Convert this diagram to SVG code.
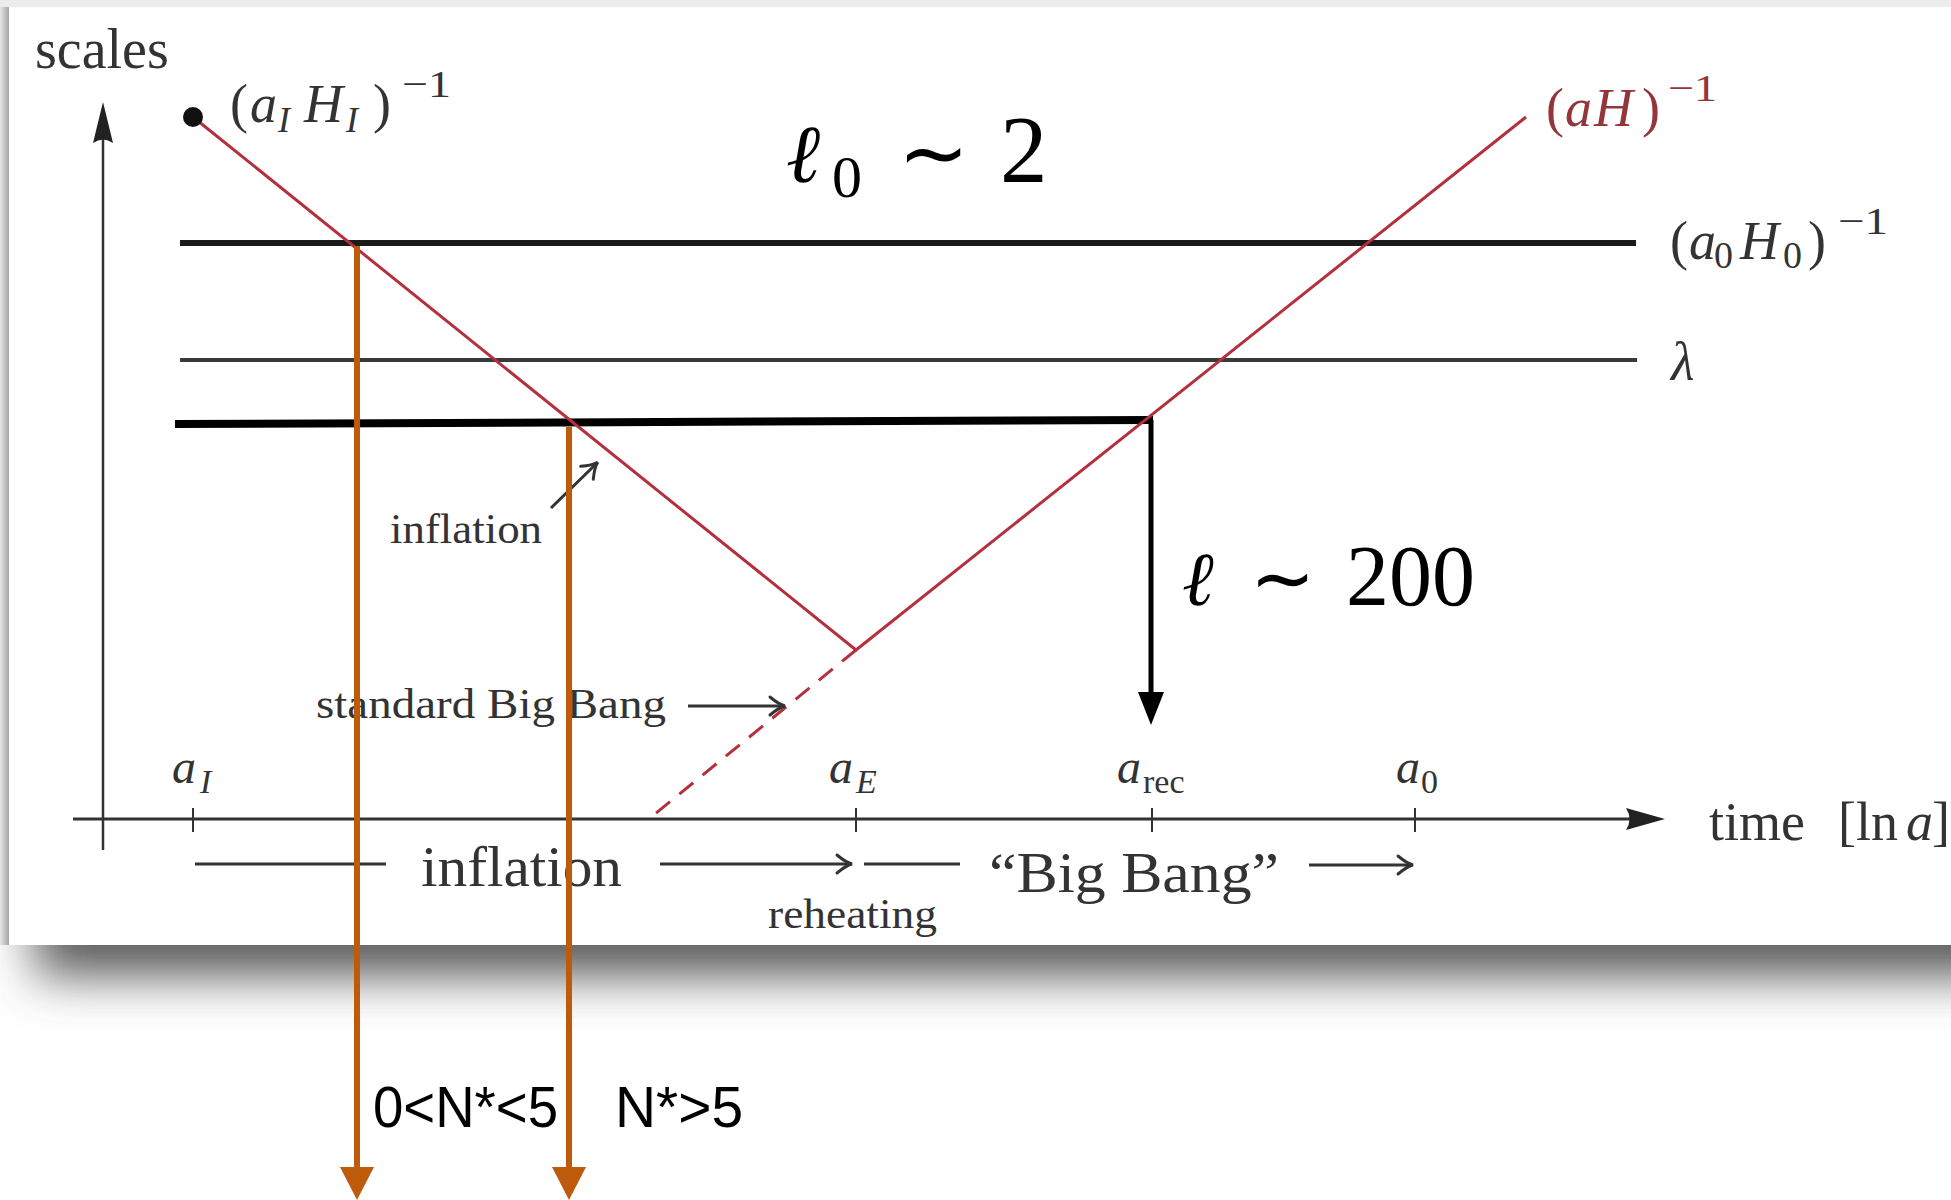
<svg xmlns="http://www.w3.org/2000/svg" width="1951" height="1200" viewBox="0 0 1951 1200">
<defs>
<style>
.tx{font-family:"Liberation Serif","DejaVu Serif",serif;fill:#333}
.rt{font-family:"Liberation Serif","DejaVu Serif",serif;fill:#93353B}
.it{font-style:italic}
.big{font-family:"Liberation Serif","Times New Roman",serif;fill:#000}
.ell{font-family:"DejaVu Serif",serif;font-style:italic;fill:#000}
.n{font-family:"Liberation Sans",Arial,sans-serif;fill:#000}
.red{stroke:#B4303C;stroke-width:3;fill:none}
.ax{stroke:#333;fill:none}
.arr{stroke:#333;stroke-width:3;fill:none;marker-end:url(#tex)}
.pl{stroke:#333;stroke-width:3;fill:none}
.or{stroke:#BE5B0B;stroke-width:6;fill:none}
</style>
<linearGradient id="lg" x1="0" x2="1" y1="0" y2="0"><stop offset="0" stop-color="#e6e6e6"/><stop offset="1" stop-color="#a5a5a5"/></linearGradient>
<filter id="blur" x="-10%" y="-100%" width="120%" height="300%"><feGaussianBlur stdDeviation="25"/></filter>
<marker id="tex" markerUnits="userSpaceOnUse" markerWidth="24" markerHeight="24" viewBox="-18 -12 24 24" refX="0" refY="0" orient="auto"><path d="M-14,-9 Q-5,-1.5 1,0 Q-5,1.5 -14,9" fill="none" stroke="#333" stroke-width="3" stroke-linecap="round"/></marker>
</defs>
<g id="background">
<rect width="1951" height="1200" fill="#fff"/>
<rect width="1951" height="7" fill="#ececec"/>
<rect x="35" y="900" width="1990" height="75" fill="#555" filter="url(#blur)"/>
<rect x="0" y="7" width="9" height="938" fill="url(#lg)"/>
<rect x="9" y="7" width="1942" height="938" fill="#fff"/>
</g>
<g id="axes">
<line class="ax" x1="103" y1="138" x2="103" y2="850" stroke-width="2.5"/>
<path d="M103,102 L113,143 Q103,136 93,143 Z" fill="#222"/>
<line class="ax" x1="73" y1="819" x2="1630" y2="819" stroke-width="3"/>
<path d="M1665,819 L1626,808 Q1633,819 1626,830 Z" fill="#222"/>
<g class="ax" stroke-width="2">
<line x1="193" y1="808" x2="193" y2="832"/>
<line x1="856" y1="808" x2="856" y2="832"/>
<line x1="1152" y1="808" x2="1152" y2="832"/>
<line x1="1415" y1="808" x2="1415" y2="832"/>
</g>
</g>
<g id="scale-lines">
<line x1="180" y1="243" x2="1636" y2="243" stroke="#1a1a1a" stroke-width="6"/>
<line x1="180" y1="360" x2="1637" y2="360" stroke="#3a3a3a" stroke-width="4"/>
<line x1="175" y1="424" x2="1153" y2="420" stroke="#000" stroke-width="8"/>
</g>
<g id="hubble-radius">
<polyline class="red" points="193,117 856,650 1526,117"/>
<line class="red" x1="856" y1="650" x2="650" y2="818" stroke-width="3.5" stroke-dasharray="18 12"/>
<circle cx="193" cy="117" r="10" fill="#111"/>
</g>
<g id="labels">
<text class="tx" x="35" y="68" font-size="56">scales</text>
<text class="tx" font-size="54" y="122"><tspan x="230">(</tspan><tspan x="250" class="it">a</tspan><tspan x="278" y="132" font-size="36" class="it">I</tspan><tspan x="304" y="122" class="it">H</tspan><tspan x="346" y="132" font-size="36" class="it">I</tspan><tspan x="373" y="122">)</tspan><tspan x="402" y="97" font-size="38" textLength="49" lengthAdjust="spacingAndGlyphs">−1</tspan></text>
<text class="rt" font-size="54" y="126"><tspan x="1546">(</tspan><tspan x="1565" class="it">a</tspan><tspan x="1594" class="it">H</tspan><tspan x="1642">)</tspan><tspan x="1668" y="101" font-size="38" textLength="49" lengthAdjust="spacingAndGlyphs">−1</tspan></text>
<text class="tx" font-size="54" y="259"><tspan x="1670">(</tspan><tspan x="1689" class="it">a</tspan><tspan x="1714" y="268" font-size="38">0</tspan><tspan x="1740" y="259" class="it">H</tspan><tspan x="1783" y="268" font-size="38">0</tspan><tspan x="1808" y="259">)</tspan><tspan x="1838" y="234" font-size="38" textLength="50" lengthAdjust="spacingAndGlyphs">−1</tspan></text>
<text class="tx it" x="1671" y="380" font-size="54">λ</text>
<g id="ell0">
<text class="ell" x="786" y="182" font-size="82">ℓ</text>
<text class="big" x="832" y="197" font-size="60">0</text>
<text class="big" x="898" y="182" font-size="85">∼</text>
<text class="big" x="1000" y="182" font-size="95">2</text>
</g>
<g id="ell200">
<text class="ell" x="1182" y="605" font-size="76">ℓ</text>
<text class="big" x="1250" y="605" font-size="78">∼</text>
<text class="big" x="1346" y="605" font-size="86">200</text>
</g>
<text class="tx" font-size="48" y="783"><tspan x="172" class="it">a</tspan><tspan x="200" y="793" font-size="34" class="it">I</tspan></text>
<text class="tx" font-size="48" y="783"><tspan x="829" class="it">a</tspan><tspan x="856" y="793" font-size="34" class="it">E</tspan></text>
<text class="tx" font-size="48" y="783"><tspan x="1117" class="it">a</tspan><tspan x="1143" y="793" font-size="34">rec</tspan></text>
<text class="tx" font-size="48" y="783"><tspan x="1396" class="it">a</tspan><tspan x="1421" y="793" font-size="34">0</tspan></text>
<text class="tx" font-size="54" y="840"><tspan x="1709">time</tspan><tspan x="1838">[ln</tspan><tspan x="1906" class="it">a</tspan><tspan x="1932">]</tspan></text>
<text class="tx" x="390" y="543" font-size="42" textLength="152" lengthAdjust="spacingAndGlyphs">inflation</text>
<text class="tx" x="316" y="718" font-size="42" textLength="350" lengthAdjust="spacingAndGlyphs">standard Big Bang</text>
<text class="tx" x="421" y="886" font-size="56" textLength="201" lengthAdjust="spacingAndGlyphs">inflation</text>
<text class="tx" x="768" y="928" font-size="42" textLength="169" lengthAdjust="spacingAndGlyphs">reheating</text>
<text class="tx" x="989" y="892" font-size="56" textLength="290" lengthAdjust="spacingAndGlyphs">“Big Bang”</text>
<text class="n" x="373" y="1127" font-size="58" textLength="185" lengthAdjust="spacingAndGlyphs">0&lt;N*&lt;5</text>
<text class="n" x="615" y="1127" font-size="58" textLength="128" lengthAdjust="spacingAndGlyphs">N*&gt;5</text>
</g>
<g id="connectors">
<line class="arr" x1="551" y1="508" x2="597" y2="463"/>
<line class="arr" x1="688" y1="706" x2="784" y2="706"/>
<line class="pl" x1="195" y1="864" x2="386" y2="864"/>
<line class="arr" x1="660" y1="864" x2="851" y2="864"/>
<line class="pl" x1="864" y1="864" x2="960" y2="864"/>
<line class="arr" x1="1309" y1="865" x2="1412" y2="865"/>
<line x1="1151" y1="420" x2="1151" y2="695" stroke="#000" stroke-width="5"/>
<polygon points="1138,692 1164,692 1151,725" fill="#000"/>
<line class="or" x1="357" y1="246" x2="357" y2="1172"/>
<polygon points="340,1167 374,1167 357,1200" fill="#BE5B0B"/>
<line class="or" x1="569" y1="427" x2="569" y2="1172"/>
<polygon points="552,1167 586,1167 569,1200" fill="#BE5B0B"/>
</g>
</svg>
